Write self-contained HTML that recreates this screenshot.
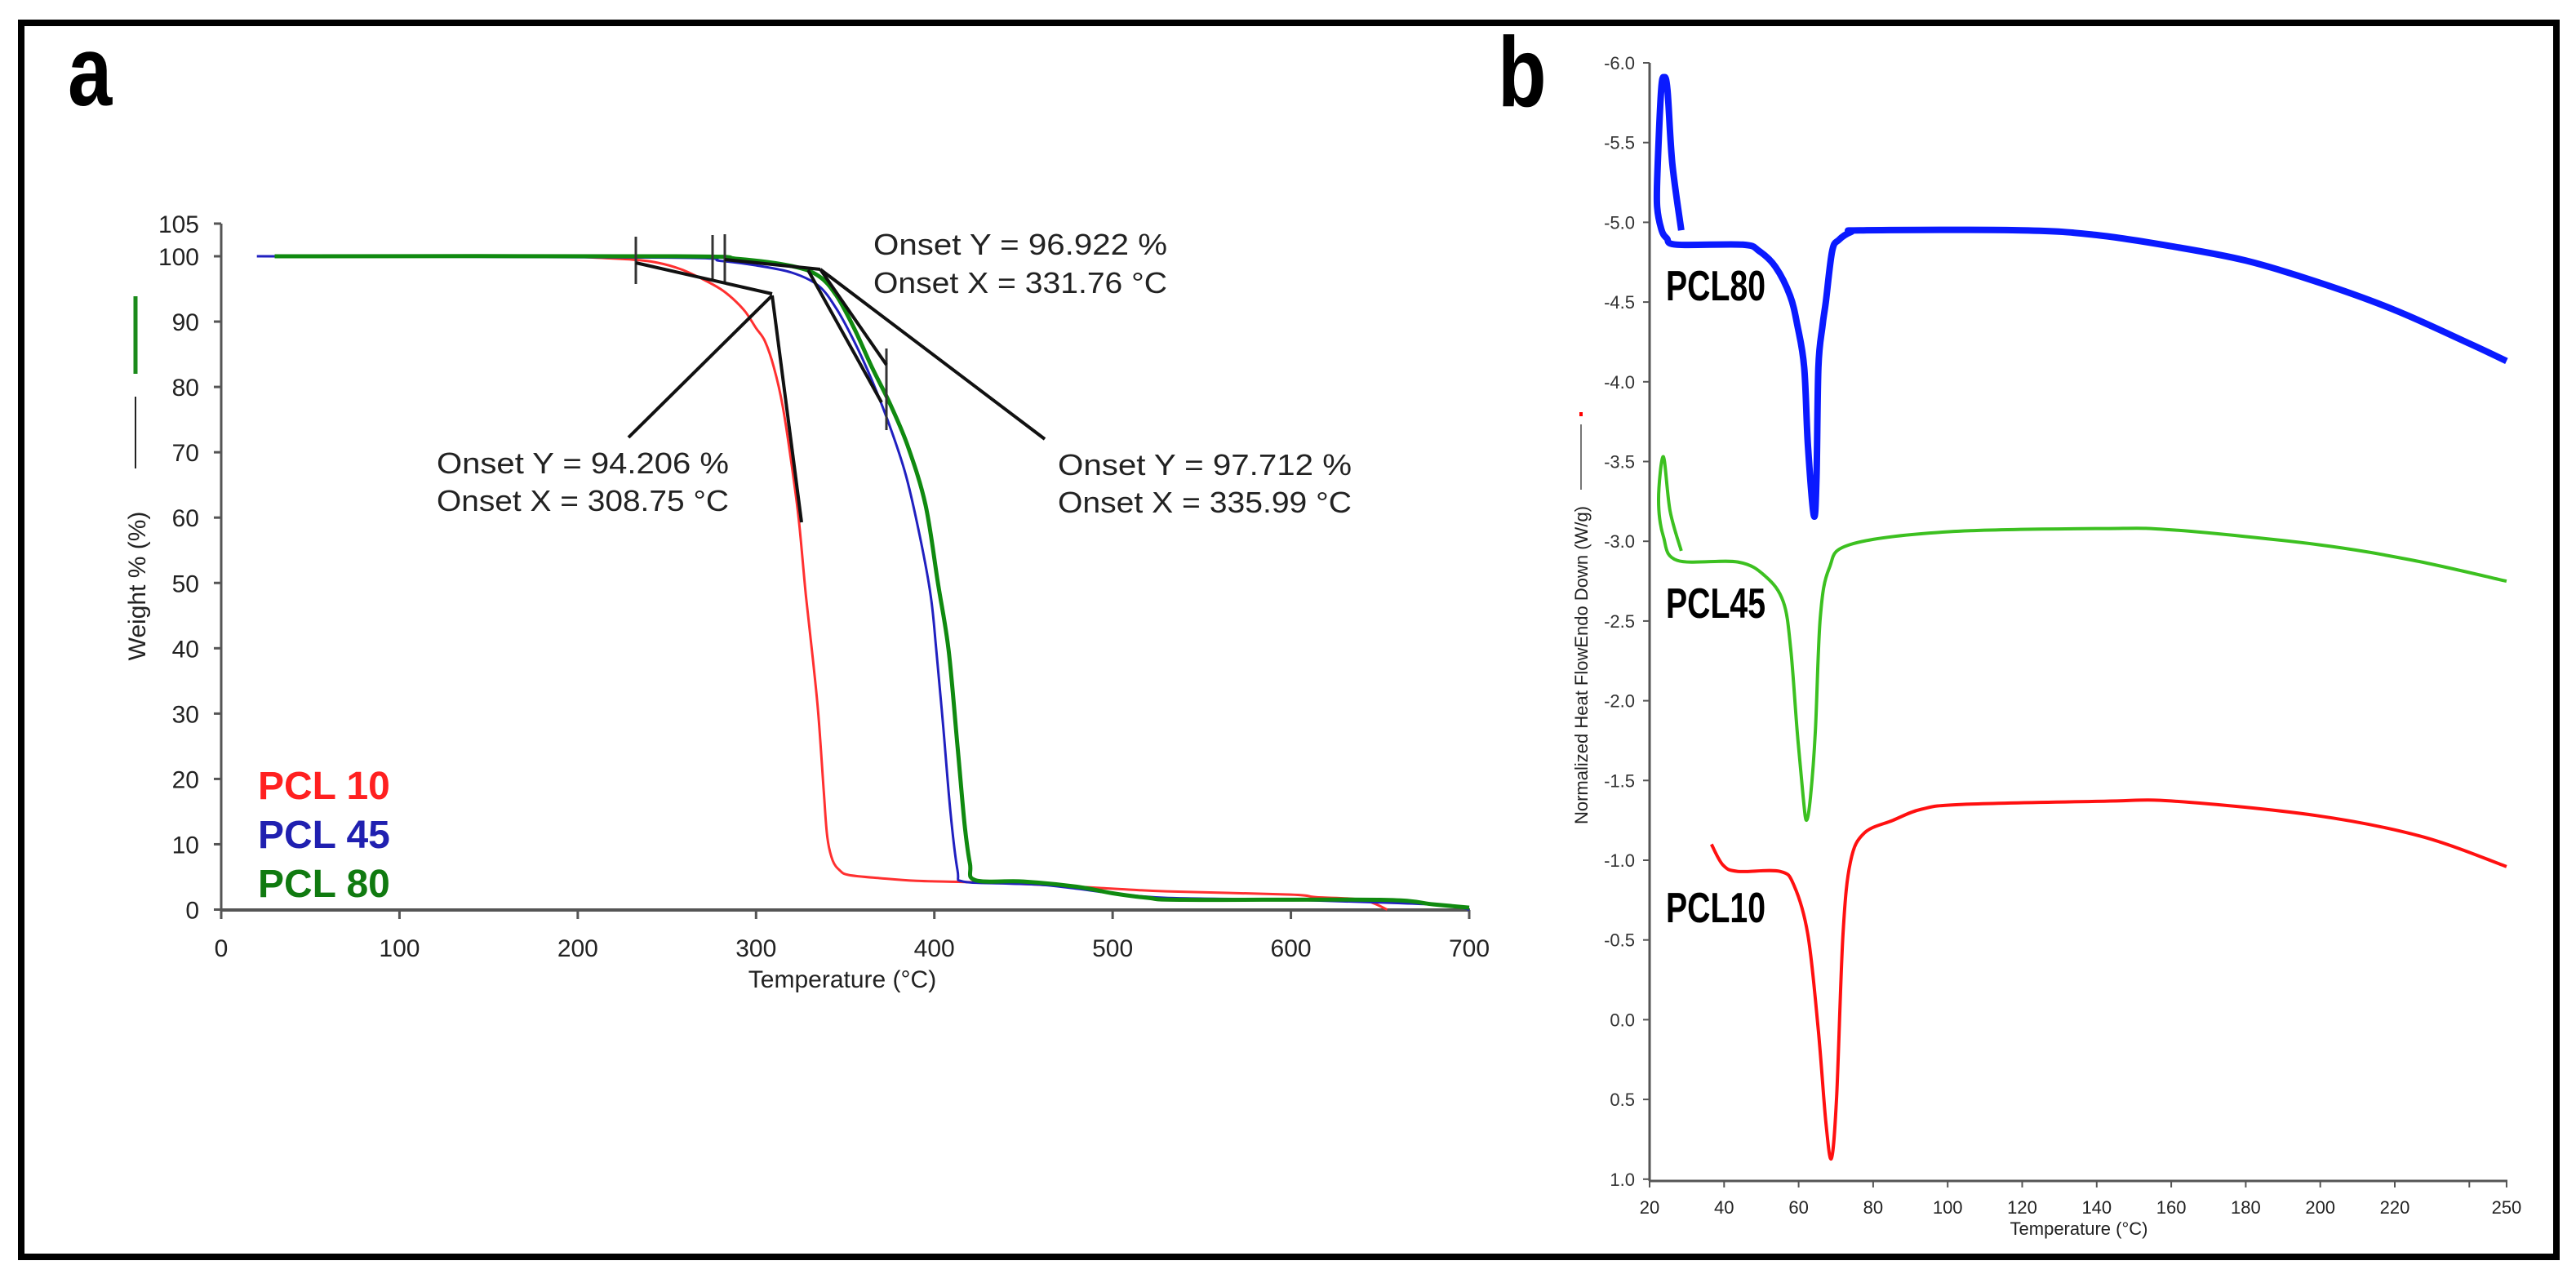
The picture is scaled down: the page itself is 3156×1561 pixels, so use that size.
<!DOCTYPE html>
<html><head><meta charset="utf-8">
<style>
html,body{margin:0;padding:0;background:#fff;}
svg{display:block;}
text{font-family:"Liberation Sans",sans-serif;}
</style></head>
<body>
<svg id="fig" width="3156" height="1561" viewBox="0 0 3156 1561" xmlns="http://www.w3.org/2000/svg">
  <rect x="0" y="0" width="3156" height="1561" fill="#fff"/>
  <rect x="26" y="28" width="3106" height="1512" fill="none" stroke="#000" stroke-width="8"/>
  <text x="83" y="129" font-size="122" font-weight="bold" transform="translate(83,0) scale(0.8,1) translate(-83,0)">a</text>
  <text x="1835" y="130" font-size="122" font-weight="bold" transform="translate(1835,0) scale(0.8,1) translate(-1835,0)">b</text>

  <g id="panelA">
    <line x1="271" y1="274" x2="271" y2="1115" stroke="#555" stroke-width="3"/>
    <line x1="271" y1="1115" x2="1801" y2="1115" stroke="#555" stroke-width="4"/>
    <g id="aTicks"></g>
    <text x="1032" y="1210" font-size="30" fill="#222" text-anchor="middle">Temperature (°C)</text>
    <text x="0" y="0" font-size="30" fill="#222" text-anchor="middle" transform="translate(178,718) rotate(-90)">Weight % (%)</text>
    <line x1="166" y1="363" x2="166" y2="458" stroke="#1a8a1a" stroke-width="5"/>
    <line x1="166" y1="486" x2="166" y2="574" stroke="#222" stroke-width="2"/>
    <g id="aSeries"></g>
    <g stroke="#111" stroke-width="4" fill="none">
      <line x1="779" y1="290" x2="779" y2="348" stroke="#333" stroke-width="3"/>
      <line x1="873" y1="288" x2="873" y2="345" stroke="#333" stroke-width="3"/>
      <line x1="888" y1="287" x2="888" y2="345" stroke="#333" stroke-width="3"/>
      <line x1="1086" y1="427" x2="1086" y2="527" stroke="#333" stroke-width="3"/>
      <line x1="779" y1="322" x2="946" y2="360"/>
      <line x1="946" y1="362" x2="982" y2="640"/>
      <line x1="770" y1="536" x2="946" y2="362"/>
      <line x1="888" y1="318" x2="1005" y2="330"/>
      <line x1="1005" y1="330" x2="1086" y2="447"/>
      <line x1="990" y1="331" x2="1080" y2="493"/>
      <line x1="1005" y1="330" x2="1280" y2="538"/>
    </g>
    <g font-size="36" fill="#222">
      <text x="1070" y="312" textLength="360" lengthAdjust="spacingAndGlyphs">Onset Y = 96.922 %</text>
      <text x="1070" y="359" textLength="360" lengthAdjust="spacingAndGlyphs">Onset X = 331.76 °C</text>
      <text x="535" y="580" textLength="358" lengthAdjust="spacingAndGlyphs">Onset Y = 94.206 %</text>
      <text x="535" y="626" textLength="358" lengthAdjust="spacingAndGlyphs">Onset X = 308.75 °C</text>
      <text x="1296" y="582" textLength="360" lengthAdjust="spacingAndGlyphs">Onset Y = 97.712 %</text>
      <text x="1296" y="628" textLength="360" lengthAdjust="spacingAndGlyphs">Onset X = 335.99 °C</text>
    </g>
    <g font-size="48" font-weight="bold">
      <text x="316" y="979" fill="#ff2020">PCL 10</text>
      <text x="316" y="1039" fill="#2020b0">PCL 45</text>
      <text x="316" y="1099" fill="#107a10">PCL 80</text>
    </g>
  </g>

  <g id="panelB">
    <line x1="2021" y1="77" x2="2021" y2="1447" stroke="#555" stroke-width="3"/>
    <line x1="2021" y1="1447" x2="3072" y2="1447" stroke="#555" stroke-width="3"/>
    <g id="bTicks"></g>
    <text x="2547" y="1513" font-size="22" fill="#222" text-anchor="middle">Temperature (°C)</text>
    <text x="0" y="0" font-size="22" fill="#222" text-anchor="middle" transform="translate(1945,815) rotate(-90)">Normalized Heat FlowEndo Down (W/g)</text>
    <line x1="1937" y1="520" x2="1937" y2="600" stroke="#777" stroke-width="2"/>
    <rect x="1935" y="505" width="4" height="5" fill="#f00"/>
    <g id="bSeries"></g>
    <g font-size="52" font-weight="bold" fill="#000">
      <text x="2041" y="368" textLength="122" lengthAdjust="spacingAndGlyphs">PCL80</text>
      <text x="2041" y="757" textLength="122" lengthAdjust="spacingAndGlyphs">PCL45</text>
      <text x="2041" y="1130" textLength="122" lengthAdjust="spacingAndGlyphs">PCL10</text>
    </g>
  </g>
</svg>
<script>
// ---------- TGA data (temperature °C, weight %) ----------
const tgaXTicks = [0,100,200,300,400,500,600,700];
const tgaYTicks = [0,10,20,30,40,50,60,70,80,90,100,105];
const tgaRed = [[195,100],[230,99.5],[245,99],[258,98],[270,96.5],[280,95],[287,93.5],[294,91.5],[300,89],[305,87],[310,83],[315,77],[320,68],[324,59.6],[328,48],[332,38],[335,29.7],[338,18],[340,11],[343,7.5],[347,6],[352,5.3],[370,4.8],[390,4.4],[420,4.2],[460,3.8],[500,3.2],[530,2.8],[600,2.3],[614,1.9],[640,1.5],[654,0]];
const tgaBlue = [[20,100],[250,99.8],[280,99.3],[300,98.6],[320,97.5],[335,95.5],[345,92],[355,87],[365,81],[375,74],[384,66.5],[392,57],[398,48],[401,40],[405,28],[409,15],[413,6],[416,4.3],[440,4],[460,3.8],[480,3.2],[500,2.5],[530,1.8],[600,1.5],[660,1],[690,0.6],[700,0]];
const tgaGreen = [[30,100],[255,100],[290,99.6],[320,98.5],[335,97],[345,94],[355,89],[365,83],[375,77.5],[385,71],[395,62],[402,50],[408,39.7],[413,25],[417,13],[420,7],[423,4.5],[450,4.3],[480,3.5],[500,2.5],[520,1.8],[540,1.5],[650,1.5],[680,0.8],[700,0.3]];

// ---------- DSC data (temperature °C, heat flow W/g) ----------
const dscXTicks = [20,40,60,80,100,120,140,160,180,200,220,240,250];
const dscXLabels = ["20","40","60","80","100","120","140","160","180","200","220","","250"];
const dscYTicks = [-6.0,-5.5,-5.0,-4.5,-4.0,-3.5,-3.0,-2.5,-2.0,-1.5,-1.0,-0.5,0.0,0.5,1.0];
const dscBlue = [[28.5,-4.95],[26.1,-5.37],[24.8,-5.83],[23.9,-5.91],[23.1,-5.83],[22.2,-5.37],[22.0,-5.11],[23.1,-4.96],[24.6,-4.9],[27.4,-4.86],[45,-4.86],[49.4,-4.82],[53.8,-4.72],[57.7,-4.54],[59.7,-4.35],[61.5,-4.09],[62.5,-3.6],[64.1,-3.16],[64.8,-3.4],[65.3,-4.09],[66.4,-4.35],[67.3,-4.5],[69,-4.82],[70.8,-4.89],[74.1,-4.94],[77.4,-4.95],[120,-4.95],[140,-4.92],[160,-4.85],[180,-4.76],[200,-4.62],[220,-4.45],[240,-4.24],[250,-4.13]];
const dscGreen = [[28.5,-2.94],[25.5,-3.19],[23.7,-3.53],[22.4,-3.26],[23.7,-3.03],[27.4,-2.88],[43.7,-2.87],[51.1,-2.78],[55.9,-2.62],[57.9,-2.32],[59.6,-1.81],[61.2,-1.4],[62.1,-1.25],[63.2,-1.4],[64.5,-1.81],[65.8,-2.52],[68.2,-2.83],[73.9,-2.98],[100.4,-3.06],[142.2,-3.08],[161,-3.07],[199,-2.98],[225,-2.88],[250,-2.75]];
const dscRed = [[36.6,-1.1],[39.7,-0.97],[43.7,-0.93],[55,-0.93],[58.8,-0.84],[62.5,-0.53],[65.3,0.07],[67.3,0.64],[68.8,0.87],[70.2,0.48],[71.9,-0.53],[73.9,-0.99],[77.6,-1.17],[85.3,-1.25],[93,-1.32],[104,-1.35],[142,-1.37],[161,-1.37],[199,-1.28],[227,-1.15],[250,-0.96]];

const NS = "http://www.w3.org/2000/svg";
function el(tag, attrs, parent){ const e=document.createElementNS(NS,tag); for(const k in attrs) e.setAttribute(k,attrs[k]); parent.appendChild(e); return e; }

// axis functions
const ax = t => 271 + (t-0)*(1800-271)/700;
const ay = w => 1114.5 - w*8.005;
const bx = t => 2021 + (t-20)*4.565;
const by = v => 77 + (v+6)*195.4;

function pathFrom(data, fx, fy){ return data.map((p,i)=>(i?"L":"M")+fx(p[0]).toFixed(1)+","+fy(p[1]).toFixed(1)).join(" "); }
function smoothFrom(data, fx, fy){
  const P = data.map(p=>[fx(p[0]),fy(p[1])]);
  let d = "M"+P[0][0].toFixed(1)+","+P[0][1].toFixed(1);
  const k = 1/6;
  for(let i=0;i<P.length-1;i++){
    const p0=P[i-1]||P[i], p1=P[i], p2=P[i+1], p3=P[i+2]||P[i+1];
    const c1=[p1[0]+(p2[0]-p0[0])*k, p1[1]+(p2[1]-p0[1])*k];
    const c2=[p2[0]-(p3[0]-p1[0])*k, p2[1]-(p3[1]-p1[1])*k];
    d += " C"+c1[0].toFixed(1)+","+c1[1].toFixed(1)+" "+c2[0].toFixed(1)+","+c2[1].toFixed(1)+" "+p2[0].toFixed(1)+","+p2[1].toFixed(1);
  }
  return d;
}

// TGA ticks
const aT = document.getElementById("aTicks");
tgaXTicks.forEach(t=>{
  const l = el("line",{x1:ax(t),y1:1115,x2:ax(t),y2:1126,stroke:"#555","stroke-width":3},aT);
  
  
  const tx = el("text",{x:ax(t),y:1172,"font-size":30,fill:"#222","text-anchor":"middle"},aT);
  tx.textContent = t;
  
  
});
tgaYTicks.forEach(w=>{
  const l = el("line",{x1:262,y1:ay(w),x2:271,y2:ay(w),stroke:"#555","stroke-width":3},aT);
  
  
  const tx = el("text",{x:244,y:ay(w)+11,"font-size":30,fill:"#222","text-anchor":"end"},aT);
  tx.textContent = w;
  
  
});

// TGA series
const aS = document.getElementById("aSeries");
const r = el("path",{d:smoothFrom(tgaRed,ax,ay),fill:"none",stroke:"#ff3030","stroke-width":3},aS);


const b = el("path",{d:smoothFrom(tgaBlue,ax,ay),fill:"none",stroke:"#2020c0","stroke-width":3},aS);


const g = el("path",{d:smoothFrom(tgaGreen,ax,ay),fill:"none",stroke:"#108a10","stroke-width":5},aS);



// DSC ticks
const bT = document.getElementById("bTicks");
dscXTicks.forEach((t,i)=>{
  const l = el("line",{x1:bx(t),y1:1447,x2:bx(t),y2:1455,stroke:"#555","stroke-width":2},bT);
  
  
  const tx = el("text",{x:bx(t),y:1487,"font-size":22,fill:"#222","text-anchor":"middle"},bT);
  tx.textContent = dscXLabels[i];
  
  
});
dscYTicks.forEach(v=>{
  const l = el("line",{x1:2013,y1:by(v),x2:2021,y2:by(v),stroke:"#555","stroke-width":2},bT);
  
  
  const tx = el("text",{x:2003,y:by(v)+8,"font-size":22,fill:"#333","text-anchor":"end"},bT);
  tx.textContent = v.toFixed(1);
  
  
});

// DSC series
const bS = document.getElementById("bSeries");
const db = el("path",{d:smoothFrom(dscBlue,bx,by),fill:"none",stroke:"#0a1aff","stroke-width":8,"stroke-linejoin":"round"},bS);


const dg = el("path",{d:smoothFrom(dscGreen,bx,by),fill:"none",stroke:"#3cc020","stroke-width":4,"stroke-linejoin":"round"},bS);


const dr = el("path",{d:smoothFrom(dscRed,bx,by),fill:"none",stroke:"#ff1010","stroke-width":4,"stroke-linejoin":"round"},bS);


</script>
</body></html>
